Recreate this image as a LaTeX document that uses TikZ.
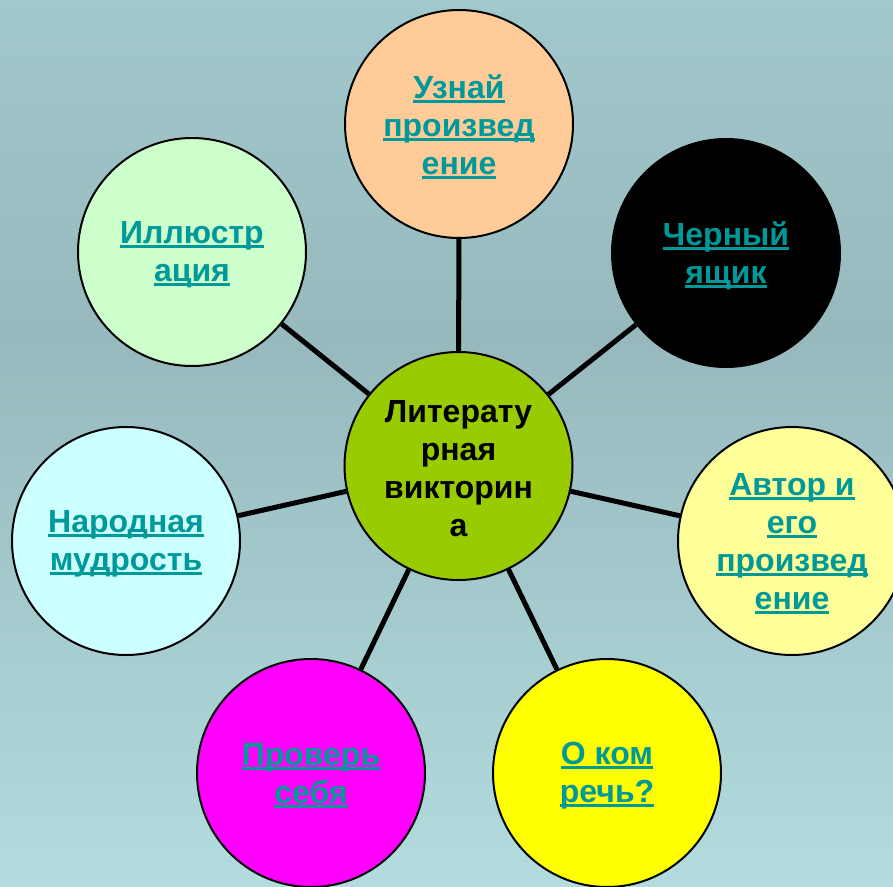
\documentclass[tikz,border=0pt]{standalone}
\usepackage{fontspec}
\setmainfont{Liberation Sans}
\definecolor{bgtop}{HTML}{A1C8CC}
\definecolor{bgmid}{HTML}{97B9BD}
\definecolor{bgbot}{HTML}{B2DCDE}
\definecolor{linkc}{HTML}{009999}
\definecolor{cgreen}{HTML}{99CC00}
\definecolor{cpeach}{HTML}{FFCC99}
\definecolor{cly}{HTML}{FFFF99}
\definecolor{cyel}{HTML}{FFFF00}
\definecolor{cmag}{HTML}{FF00FF}
\definecolor{ccyan}{HTML}{CCFFFF}
\definecolor{clgreen}{HTML}{CCFFCC}
\pgfdeclareverticalshading{bgshade}{100bp}{color(0bp)=(bgbot); color(25bp)=(bgbot); color(56bp)=(bgmid); color(75bp)=(bgtop); color(100bp)=(bgtop)}
\newcommand\ulx[1]{\setbox0=\hbox{#1}\makebox[0pt][l]{\rule[-4.5pt]{\wd0}{3pt}}\box0}
\tikzset{
  bubble/.style={circle, draw=black, line width=2pt, minimum size=228pt, inner sep=0pt},
  btext/.style={align=center, inner sep=0pt, yshift=-3pt,
    font=\bfseries\fontsize{32}{38}\selectfont, text=linkc},
  spoke/.style={line width=5pt, black}
}
\begin{document}
\begin{tikzpicture}[x=1pt,y=-1pt]
\useasboundingbox (0,0) rectangle (893,886);
\clip (0,0) rectangle (893,886);
\shade[shading=bgshade] (0,0) rectangle (893,886);
\node[bubble, fill=cgreen] (c) at (458.5,466) {};
\node[bubble, fill=cpeach] (t) at (459,124) {};
\node[bubble, fill=black] (tr) at (726,253) {};
\node[bubble, fill=cly] (r) at (792,541) {};
\node[bubble, fill=cyel] (br) at (607,773) {};
\node[bubble, fill=cmag] (bl) at (311,773) {};
\node[bubble, fill=ccyan] (l) at (126,541) {};
\node[bubble, fill=clgreen] (tl) at (192,252) {};
\foreach \n in {t,tr,r,br,bl,l,tl} \draw[spoke] (c) -- (\n);
\node[btext, text=black] (c-txt) at (c) {Литерату\\рная\\викторин\\а};
\node[btext] (t-txt) at (t) {\ulx{Узнай}\\\ulx{произвед}\\\ulx{ение}};
\node[btext] (tr-txt) at (tr) {\ulx{Черный}\\\ulx{ящик}};
\node[btext] (r-txt) at (r) {\ulx{Автор и}\\\ulx{его}\\\ulx{произвед}\\\ulx{ение}};
\node[btext] (br-txt) at (br) {\ulx{О ком}\\\ulx{речь?}};
\node[btext] (bl-txt) at (bl) {\ulx{Проверь}\\\ulx{себя}};
\node[btext] (l-txt) at (l) {\ulx{Народная}\\\ulx{мудрость}};
\node[btext] (tl-txt) at (tl) {\ulx{Иллюстр}\\\ulx{ация}};
\end{tikzpicture}
\end{document}
